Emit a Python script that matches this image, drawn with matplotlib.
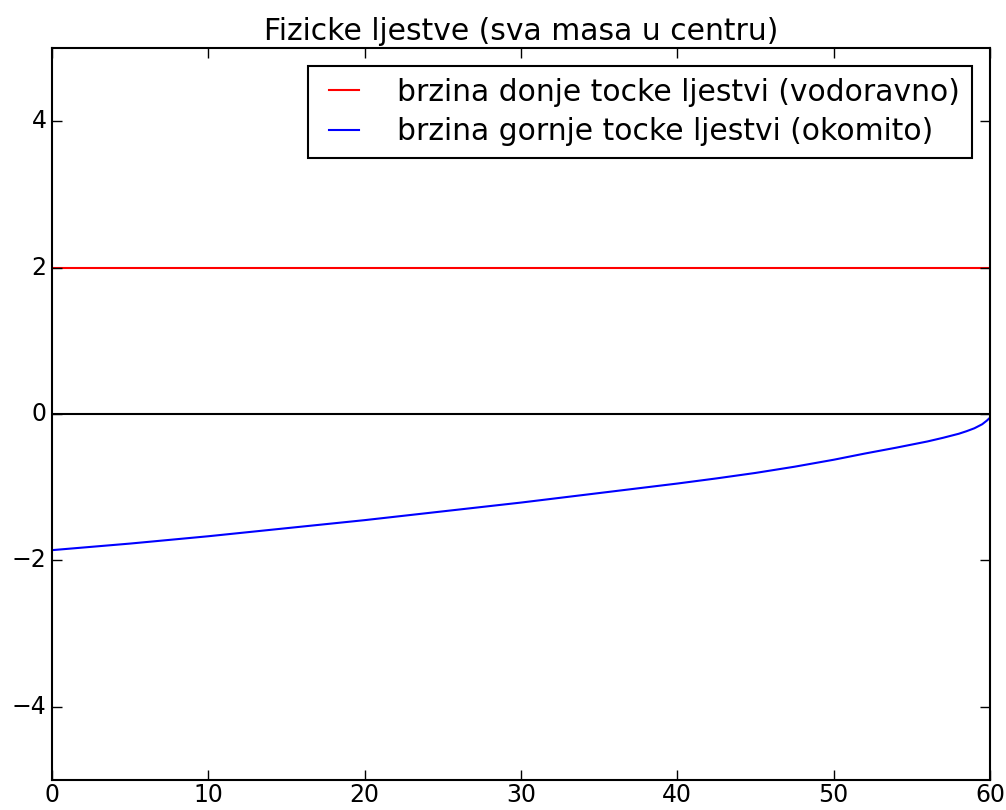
import matplotlib
matplotlib.use("Agg")
import matplotlib.pyplot as plt

plt.style.use("classic")

# data
t_red = [0, 60]
v_bottom = [2, 2]
t_blue = [0, 5, 10, 15, 20, 25, 30, 35, 40, 42.5, 45, 47.5, 50, 52, 54, 56, 57,
          58, 58.5, 59, 59.5, 59.8, 60]
v_top = [-1.86, -1.77, -1.67, -1.56, -1.45, -1.33, -1.21, -1.08, -0.95, -0.88,
         -0.805, -0.72, -0.625, -0.54, -0.46, -0.375, -0.325,
         -0.27, -0.235, -0.195, -0.14, -0.09, -0.05]
label_red = "brzina donje tocke ljestvi (vodoravno)"
label_blue = "brzina gornje tocke ljestvi (okomito)"
title = "Fizicke ljestve (sva masa u centru)"

fig = plt.figure(figsize=(10.06, 8.10), dpi=100, facecolor="white")
ax = fig.add_axes([52/1006, 30/810, (990-52)/1006, (780-48)/810])

ax.plot(t_red, v_bottom, color="red", lw=1.5, label=label_red)
ax.plot(t_blue, v_top, color="blue", lw=1.5, label=label_blue)
ax.axhline(0, color="black", lw=1.5)

ax.set_xlim(0, 60)
ax.set_ylim(-5, 5)
ax.set_xticks([0, 10, 20, 30, 40, 50, 60])
ax.set_yticks([-4, -2, 0, 2, 4])
ax.tick_params(labelsize=17, length=7, width=1)
ax.tick_params(axis="y", pad=4)
ax.tick_params(axis="x", pad=2)
for s in ax.spines.values():
    s.set_linewidth(1.5)
ax.set_title(title, fontsize=21.4, pad=6)
leg = ax.legend(loc="upper right", fontsize=21.4, numpoints=2, handlelength=1.6,
                handletextpad=1.0, borderpad=0.4, labelspacing=0.35,
                borderaxespad=0.6, fancybox=False)
leg.get_frame().set_linewidth(1.5)
leg.get_frame().set_edgecolor("black")

fig.savefig("out.png", dpi=100, facecolor="white")
